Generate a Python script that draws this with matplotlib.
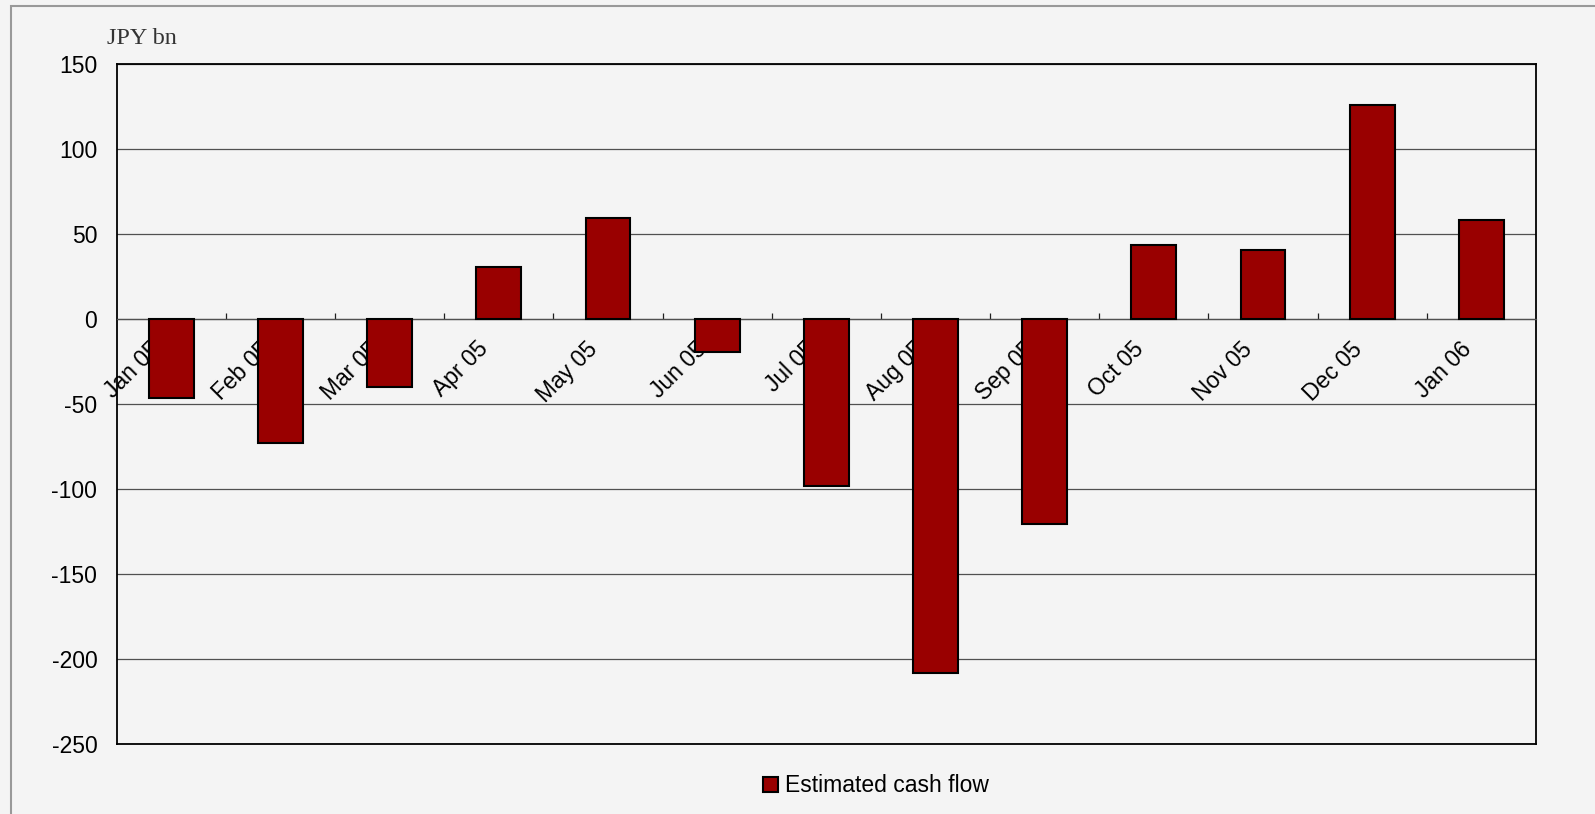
import numpy as np
import matplotlib
matplotlib.use("Agg")
import matplotlib.pyplot as plt
from matplotlib.patches import Rectangle
from matplotlib.transforms import ScaledTranslation

months = ['Jan 05', 'Feb 05', 'Mar 05', 'Apr 05', 'May 05', 'Jun 05', 'Jul 05',
          'Aug 05', 'Sep 05', 'Oct 05', 'Nov 05', 'Dec 05', 'Jan 06']
cash_flow = [-46.8, -72.9, -40.0, 30.7, 59.4, -19.4, -98.2,
             -208.6, -121.0, 43.2, 40.6, 125.9, 58.1]
y_ticks = [150, 100, 50, 0, -50, -100, -150, -200, -250]

bg = '#f4f4f4'
plt.rcParams['font.family'] = ['Liberation Sans', 'DejaVu Sans']
fs = 16.5

fig = plt.figure(figsize=(15.95, 8.14), dpi=100, facecolor=bg)
ax = fig.add_axes([116.7 / 1595, 1 - 743.7 / 814, (1536 - 116.7) / 1595, (743.7 - 63.7) / 814])
ax.set_facecolor(bg)

x = np.arange(len(months))
ax.bar(x, cash_flow, width=0.41, color='#990000', edgecolor='black', linewidth=1.5,
       label='Estimated cash flow', zorder=3)

ax.set_xlim(-0.5, len(months) - 0.5)
ax.set_ylim(-250, 150)
ax.set_yticks(y_ticks)
ax.set_yticklabels([str(v) for v in y_ticks])
ax.yaxis.grid(True, color='#505050', linewidth=0.9, zorder=0)
ax.tick_params(axis='y', length=0, pad=14, labelsize=fs)

# category axis sits on zero, ticks between categories
for side in ['left', 'right', 'top']:
    ax.spines[side].set_linewidth(1.3)
    ax.spines[side].set_color('black')
ax.spines['bottom'].set_position(('data', 0))
ax.spines['bottom'].set_color('#505050')
ax.spines['bottom'].set_linewidth(0.9)
ax.axhline(-250, color='black', linewidth=1.3, clip_on=False, zorder=5)

ax.set_xticks(x)
ax.set_xticks(np.arange(0.5, len(months) - 1, 1), minor=True)
ax.tick_params(axis='x', which='major', length=0, pad=13.5, labelsize=fs)
ax.tick_params(axis='x', which='minor', direction='in', length=4.3, width=0.9, color='#202020')
ax.set_xticklabels(months, rotation=45, ha='right', va='top', rotation_mode='anchor')
for lab in ax.get_xticklabels():
    lab.set_transform(lab.get_transform() + ScaledTranslation(-22 / 100, 0, fig.dpi_scale_trans))

fig.text(107 / 1595, 1 - 44 / 814, 'JPY bn', family='Liberation Serif', fontsize=17.5,
         color='#333333', va='baseline', ha='left')

fig.legend(loc='center', bbox_to_anchor=(876 / 1595, 1 - 786 / 814), frameon=False,
           fontsize=fs, handlelength=0.65, handleheight=0.6, handletextpad=0.3)

# outer grey frame (only left and top edges show)
fig.add_artist(Rectangle((11 / 1595, -0.1), 1.2, 1.1 - 6 / 814, transform=fig.transFigure,
                         fill=False, edgecolor='#999999', linewidth=1.5))

fig.savefig('out.png', dpi=100, facecolor=bg)
